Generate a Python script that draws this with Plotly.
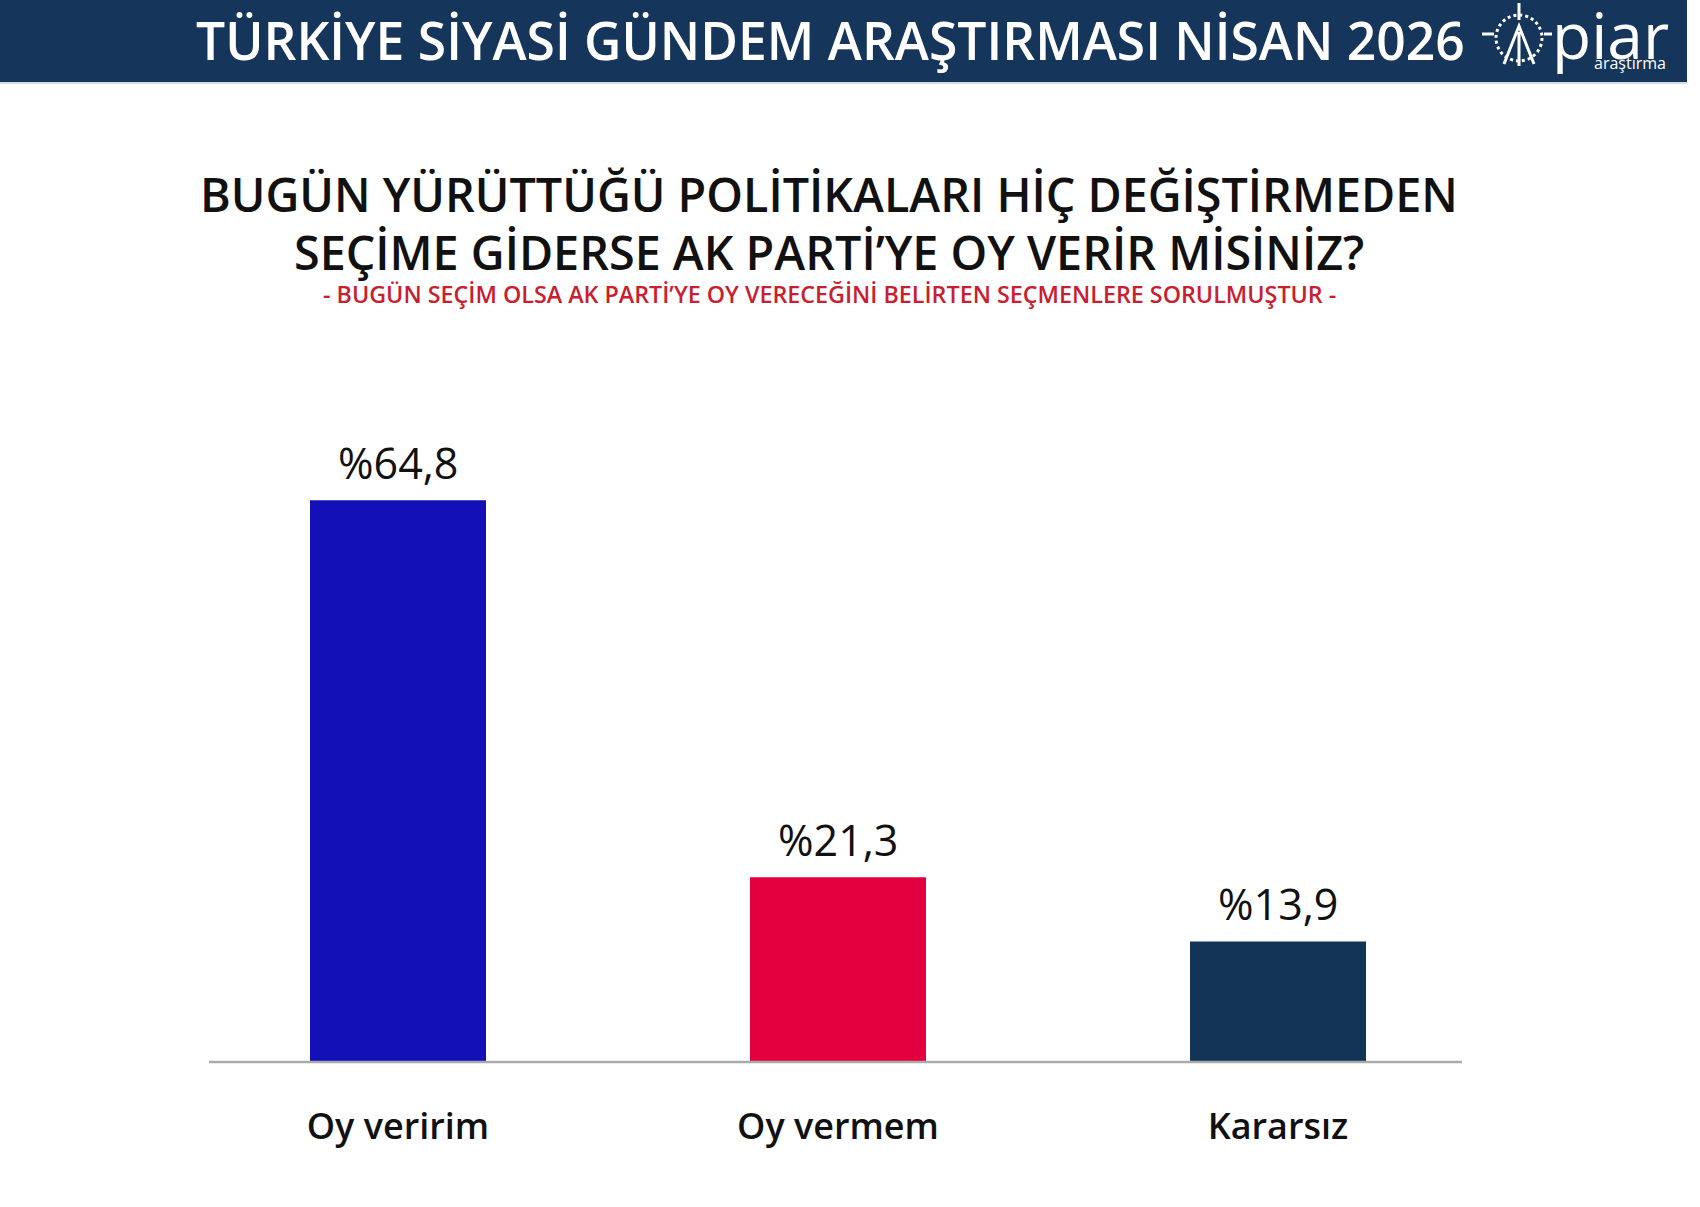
import plotly.graph_objects as go

categories = ["Oy veririm", "Oy vermem", "Kararsız"]
values = [64.8, 21.3, 13.9]
value_labels = ["%64,8", "%21,3", "%13,9"]
bar_colors = ["#1410b8", "#e4003f", "#143456"]

header_text = "TÜRKİYE SİYASİ GÜNDEM ARAŞTIRMASI NİSAN 2026"
title_line1 = "BUGÜN YÜRÜTTÜĞÜ POLİTİKALARI HİÇ DEĞİŞTİRMEDEN"
title_line2 = "SEÇİME GİDERSE AK PARTİ’YE OY VERİR MİSİNİZ?"
subtitle = "- BUGÜN SEÇİM OLSA AK PARTİ’YE OY VERECEĞİNİ BELİRTEN SEÇMENLERE SORULMUŞTUR -"

W, H = 1700, 1207
L, R, T, B = 178, 202, 400, 145
PW, PH = W - L - R, H - T - B


def px(x):
    return (x - L) / PW


def py(y):
    return (H - B - y) / PH


fig = go.Figure()
fig.add_trace(go.Bar(
    x=categories, y=values, marker=dict(color=bar_colors, line=dict(width=0)),
    width=0.4, hoverinfo="skip",
))

shapes = [
    dict(type="rect", xref="paper", yref="paper", x0=px(0), x1=px(1687), y0=py(0), y1=py(82),
         fillcolor="#15355a", line=dict(width=0), layer="below"),
    dict(type="line", xref="paper", yref="paper", x0=px(0), x1=px(1687), y0=py(83), y1=py(83),
         line=dict(color="#d5dbe2", width=2)),
    dict(type="line", xref="paper", yref="paper", x0=px(209), x1=px(1462), y0=py(1062), y1=py(1062),
         line=dict(color="#ababab", width=2.5)),
    # logo icon
    dict(type="circle", xref="paper", yref="paper", x0=px(1496), x1=px(1542), y0=py(15), y1=py(61),
         line=dict(color="white", width=3, dash="dot")),
    dict(type="line", xref="paper", yref="paper", x0=px(1519), x1=px(1519), y0=py(3), y1=py(20),
         line=dict(color="white", width=3)),
    dict(type="line", xref="paper", yref="paper", x0=px(1482), x1=px(1494), y0=py(34), y1=py(34),
         line=dict(color="white", width=3)),
    dict(type="line", xref="paper", yref="paper", x0=px(1544), x1=px(1552), y0=py(34), y1=py(34),
         line=dict(color="white", width=3)),
    dict(type="path", xref="paper", yref="paper",
         path=f"M {px(1504)} {py(64)} L {px(1519)} {py(26)} L {px(1534)} {py(64)} M {px(1519)} {py(32)} L {px(1519)} {py(66)}",
         line=dict(color="white", width=3)),
]

annotations = [
    dict(text=header_text, xref="paper", yref="paper", x=px(1467), y=py(40), xanchor="right", yanchor="middle",
         showarrow=False, font=dict(family="Open Sans", size=51.6, color="white", weight=600)),
    dict(text="piar", xref="paper", yref="paper", x=px(1550), y=py(34), xanchor="left", yanchor="middle",
         showarrow=False, font=dict(family="Open Sans", size=64, color="white", weight=500)),
    dict(text="araştırma", xref="paper", yref="paper", x=px(1668), y=py(63), xanchor="right", yanchor="middle",
         showarrow=False, font=dict(family="Open Sans", size=16, color="white")),
    dict(text=title_line1, xref="paper", yref="paper", x=px(829), y=py(194), xanchor="center", yanchor="middle",
         showarrow=False, font=dict(family="Open Sans", size=46.7, color="#111111", weight=600)),
    dict(text=title_line2, xref="paper", yref="paper", x=px(829), y=py(252), xanchor="center", yanchor="middle",
         showarrow=False, font=dict(family="Open Sans", size=46.7, color="#111111", weight=600)),
    dict(text=subtitle, xref="paper", yref="paper", x=px(829), y=py(294), xanchor="center", yanchor="middle",
         showarrow=False, font=dict(family="Open Sans", size=23.3, color="#c8202f", weight=600)),
]
for c, v, t in zip(categories, values, value_labels):
    annotations.append(dict(text=t, x=c, y=v, xref="x", yref="y", yanchor="middle", yshift=38,
                            showarrow=False, font=dict(family="Open Sans", size=43, color="#111111")))

fig.update_layout(
    width=W, height=H, margin=dict(l=L, r=R, t=T, b=B),
    paper_bgcolor="white", plot_bgcolor="white", showlegend=False,
    shapes=shapes, annotations=annotations,
    xaxis=dict(range=[-0.5, 2.5], showgrid=False, zeroline=False, showline=False, ticks="",
               tickfont=dict(family="Open Sans", size=36, color="#111111", weight=600),
               ticklabelstandoff=40, fixedrange=True),
    yaxis=dict(range=[0, PH / 8.67], visible=False, showgrid=False, zeroline=False, fixedrange=True),
)

fig.write_html("out.html", config={"displayModeBar": False},
               post_script="document.body.style.margin='0px';document.body.style.overflow='hidden';")
